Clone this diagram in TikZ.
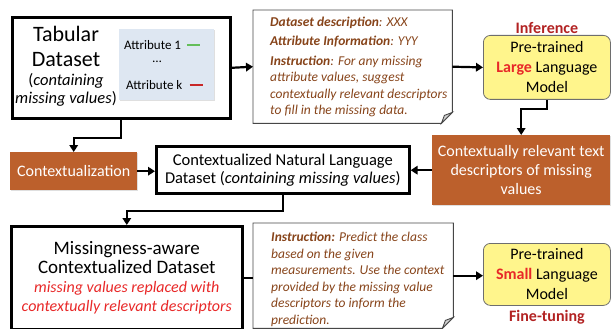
\documentclass[tikz,border=0pt]{standalone}
\usepackage{fontspec}
\setmainfont{Carlito}
\usetikzlibrary{arrows.meta,positioning,calc,shadows}

\definecolor{ctxbrown}{RGB}{188,96,44}
\definecolor{notebrown}{RGB}{135,68,26}
\definecolor{keyred}{RGB}{232,40,40}
\definecolor{stagered}{RGB}{178,34,34}
\definecolor{lmyellow}{RGB}{255,245,140}
\definecolor{lmborder}{RGB}{110,110,110}
\definecolor{attrblue}{RGB}{222,231,242}
\definecolor{attrgreen}{RGB}{100,190,90}
\definecolor{attrred}{RGB}{200,40,40}
\definecolor{notegray}{RGB}{70,70,70}

\begin{document}
\begin{tikzpicture}[
    x=1pt, y=-1pt,
    font=\fontsize{16.5}{18}\selectfont,
    dataset/.style={draw, line width=2.6pt, align=center, inner sep=0pt},
    brownbox/.style={fill=ctxbrown, text=white, align=center, inner sep=0pt,
      drop shadow={opacity=0.25, shadow xshift=1pt, shadow yshift=-1pt}},
    lmbox/.style={draw=lmborder, fill=lmyellow, line width=0.8pt, rounded corners=7pt,
      align=center, inner sep=0pt, font=\fontsize{16}{20}\selectfont},
    notebox/.style={draw=notegray, line width=0.9pt},
    notetext/.style={text=notebrown, align=left, inner sep=0pt,
      font=\fontsize{13.5}{16.5}\selectfont\itshape},
    attrtext/.style={inner sep=0pt, font=\fontsize{13}{15}\selectfont},
    stage/.style={text=stagered, inner sep=1pt, font=\fontsize{16}{18}\selectfont\bfseries},
    flow/.style={line width=2.2pt, -{Triangle[length=7pt,width=8.5pt]}}
  ]

\useasboundingbox (0,0) rectangle (611,329);

% tabular dataset
\node[
    dataset,
    minimum width=218pt,
    minimum height=101pt,
    anchor=north west
  ] (TD) at (11,16) {};
\node[align=center, font=\fontsize{22}{25}\selectfont] (TDname) at (66,46) {Tabular\\Dataset};
\node[align=center, below=0pt of TDname, font=\fontsize{16.5}{18}\selectfont] (TDmiss) {(\textit{containing}\\\textit{missing values})};

\node[
    fill=attrblue,
    minimum width=95pt,
    minimum height=71pt,
    anchor=north west,
    drop shadow={opacity=0.25, shadow xshift=1pt, shadow yshift=-1pt}
  ] (AT) at (119,29) {};
\node[attrtext, anchor=west] (A1) at (124,45) {Attribute 1};
\node[attrtext] (Adots) at (157,62) {\dots};
\node[attrtext, anchor=west] (Ak) at (126,85) {Attribute k};
\draw[line width=1.2pt, attrgreen] ($ (A1.east) + (6,0) $) -- ++(13,0);
\draw[line width=1.2pt, attrred] ($ (Ak.east) + (7,0) $) -- ++(13,0);

% prompt for the large model
\node[
    minimum width=199pt,
    minimum height=113pt,
    anchor=north west,
    inner sep=0pt
  ] (P1) at (253,10) {};
\draw[notebox] (P1.north west) -- (P1.north east) -- ($ (P1.south east) + (0,-11) $)
  -- ($ (P1.south east) + (-11,0) $) -- (P1.south west) -- cycle;
\draw[notebox, fill=gray!35] ($ (P1.south east) + (0,-11) $) -- ($ (P1.south east) + (-11,0) $)
  -- ($ (P1.south east) + (-8,-8) $) -- cycle;
\node[notetext, anchor=west] (P1text) at ($ (P1.west) + (17,0) $) {%
  \textbf{Dataset description}: XXX\\[3pt]
  \textbf{Attribute Information}: YYY\\[3pt]
  \textbf{Instruction}: For any missing\\
  attribute values, suggest\\
  contextually relevant descriptors\\
  to fill in the missing data.};

% large language model
\node[
    lmbox,
    minimum width=127pt,
    minimum height=64pt,
    anchor=north west
  ] (LLM) at (483,35) {Pre-trained\\\textcolor{keyred}{\textbf{Large}} Language\\Model};
\node[stage, above=0pt of LLM] (INF) {Inference};

% descriptors
\node[
    brownbox,
    minimum width=178pt,
    minimum height=70pt,
    anchor=north west,
    font=\fontsize{16}{19}\selectfont
  ] (CD) at (432,135) {Contextually relevant text\\descriptors of missing\\values};

\node[
    brownbox,
    minimum width=127pt,
    minimum height=38pt,
    anchor=north west,
    font=\fontsize{16}{19}\selectfont
  ] (CX) at (10,152) {Contextualization};

\node[
    dataset,
    minimum width=253pt,
    minimum height=47pt,
    anchor=north west
  ] (CNL) at (155,145) {Contextualized Natural Language\\Dataset (\textit{containing missing values})};

% missingness-aware dataset
\node[
    dataset,
    minimum width=231pt,
    minimum height=103pt,
    anchor=north west,
    font=\fontsize{19}{19}\selectfont
  ] (MCD) at (10,225) {Missingness-aware\\Contextualized Dataset\\
    {\color{keyred}\fontsize{16}{19}\selectfont\itshape missing values replaced with}\\
    {\color{keyred}\fontsize{16}{19}\selectfont\itshape contextually relevant descriptors}};

% prompt for the small model
\node[
    minimum width=200pt,
    minimum height=105pt,
    anchor=north west,
    inner sep=0pt
  ] (P2) at (253,223) {};
\draw[notebox] (P2.north west) -- (P2.north east) -- ($ (P2.south east) + (0,-11) $)
  -- ($ (P2.south east) + (-11,0) $) -- (P2.south west) -- cycle;
\draw[notebox, fill=gray!35] ($ (P2.south east) + (0,-11) $) -- ($ (P2.south east) + (-11,0) $)
  -- ($ (P2.south east) + (-8,-8) $) -- cycle;
\node[notetext, anchor=north west] (P2text) at (271,232) {%
  \textbf{Instruction:} Predict the class\\
  based on the given\\
  measurements. Use the context\\
  provided by the missing value\\
  descriptors to inform the\\
  prediction.};

% small language model
\node[
    lmbox,
    minimum width=127pt,
    minimum height=62pt,
    anchor=north west
  ] (SLM) at (483,243) {Pre-trained\\\textcolor{keyred}{\textbf{Small}} Language\\Model};
\node[stage, below=3pt of SLM] (FT) {Fine-tuning};

% connectors
\draw[flow] (TD.east) -- (P1.west);
\draw[flow] (P1.east) -- (LLM.west);
\draw[flow] (LLM.south) -- ++(0,9) -| (CD.north);
\draw[flow] (CD.west) -- (CD.west -| CNL.east);
\draw[flow] (TD.south) -- ++(0,18) -| (CX.north);
\draw[flow] (CX.east) -- (CX.east -| CNL.west);
\draw[flow] (CNL.south) -- ++(0,16) -| (MCD.north);
\draw[line width=2.2pt] (MCD.east) -- (MCD.east -| P2.west);
\draw[flow] (P2.east) -- (P2.east -| SLM.west);

\end{tikzpicture}
\end{document}
